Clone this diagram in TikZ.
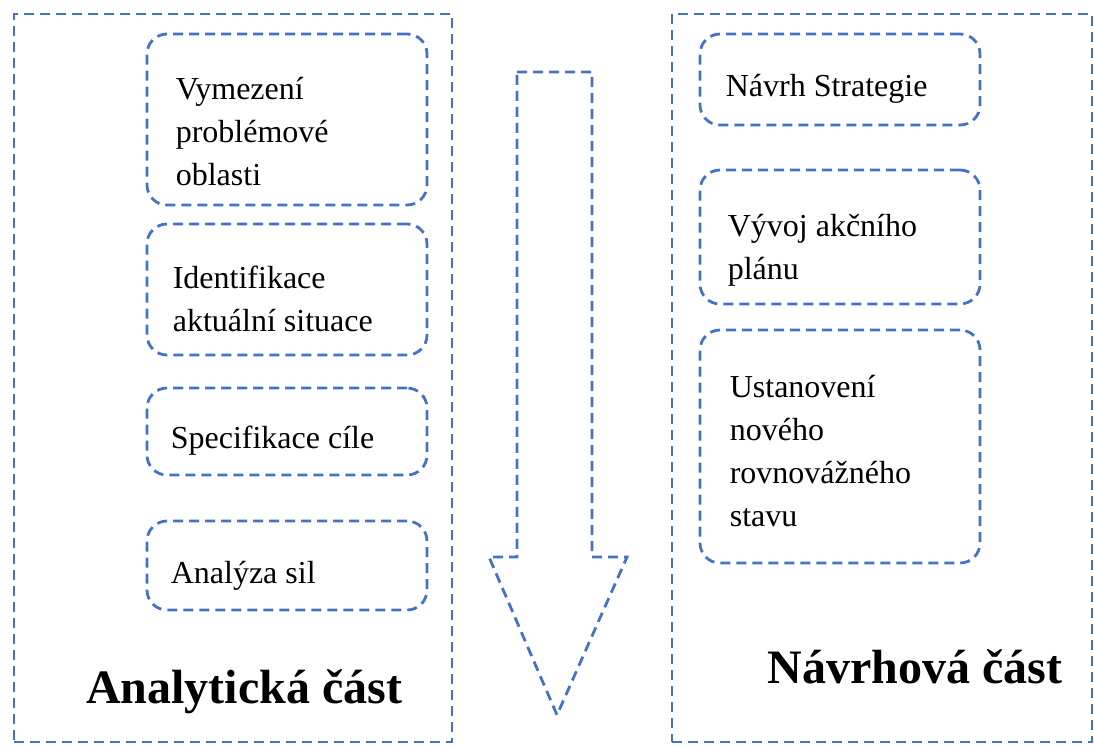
\documentclass[tikz,border=0pt]{standalone}
\usepackage{fontspec}
\setmainfont{Liberation Serif}
\definecolor{dashblue}{HTML}{4472C4}
\begin{document}
\begin{tikzpicture}[x=1pt,y=-1pt,
  dashline/.style={draw=dashblue, line width=2.8pt, dash pattern=on 10pt off 6pt},
  frame/.style={dashline, rectangle, inner sep=0pt},
  card/.style={dashline, rectangle, rounded corners=20pt, inner sep=0pt},
  label/.style={align=left, inner sep=0pt, font=\fontsize{32}{43}\selectfont},
  heading/.style={inner sep=0pt, font=\fontsize{48}{56}\selectfont\bfseries}]
\useasboundingbox (0,0) rectangle (1094,745);

% two outer panels
\node[frame, minimum width=438pt, minimum height=728pt] (left) at (233,378) {};
\node[frame, minimum width=420pt, minimum height=728pt] (right) at (882,378) {};

% analytical steps
\node[card, minimum width=280pt, minimum height=171pt] (a1) at (287,119.5) {};
\node[card, minimum width=280pt, minimum height=131pt] (a2) at (287,289.5) {};
\node[card, minimum width=280pt, minimum height=87pt] (a3) at (287,431.5) {};
\node[card, minimum width=280pt, minimum height=89pt] (a4) at (287,565.5) {};

\node[label, anchor=west] (ta1) at ([xshift=30pt,yshift=-12pt]a1.west) {Vymezení\\problémové\\oblasti};
\node[label, anchor=west] (ta2) at ([xshift=27pt,yshift=-9pt]a2.west) {Identifikace\\aktuální situace};
\node[label, anchor=west] (ta3) at ([xshift=25pt,yshift=-9.5pt]a3.west) {Specifikace cíle};
\node[label, anchor=west] (ta4) at ([xshift=25pt,yshift=-10.5pt]a4.west) {Analýza sil};

% design steps
\node[card, minimum width=280pt, minimum height=91pt] (b1) at (840,79.5) {};
\node[card, minimum width=280pt, minimum height=134pt] (b2) at (840,237) {};
\node[card, minimum width=280pt, minimum height=233pt] (b3) at (840,446.5) {};

\node[label, anchor=west] (tb1) at ([xshift=27pt,yshift=-9.5pt]b1.west) {Návrh Strategie};
\node[label, anchor=west] (tb2) at ([xshift=29pt,yshift=-13.5pt]b2.west) {Vývoj akčního\\plánu};
\node[label, anchor=west] (tb3) at ([xshift=31pt,yshift=-5pt]b3.west) {Ustanovení\\nového\\rovnovážného\\stavu};

% panel headings
\node[heading] (ha) at (244,692) {Analytická část};
\node[heading] (hb) at (915,667) {Návrhová část};

% downward flow arrow
\draw[dashline, line join=miter] (517,72) -- (592,72) -- (592,557) -- (627,557)
  -- (557,715) -- (489,557) -- (517,557) -- cycle;
\end{tikzpicture}
\end{document}
